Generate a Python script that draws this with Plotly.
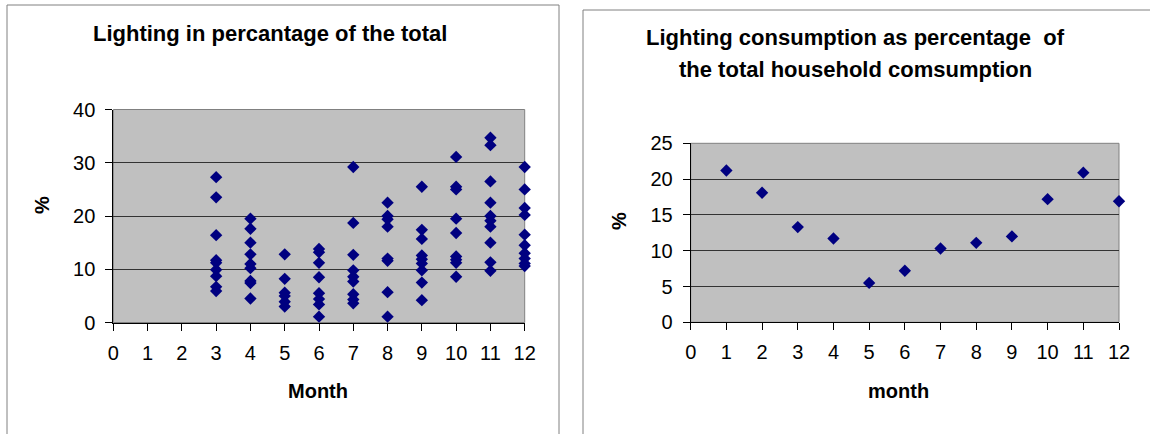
import plotly.graph_objects as go

# ---- Data: left chart (individual household values, % lighting of total) ----
months_left = (
    [3] * 9 + [4] * 9 + [5] * 6 + [6] * 8 + [7] * 9 + [8] * 8 + [9] * 9 + [10] * 9 + [11] * 10 + [12] * 10
)
pct_left = [
    27.3, 23.5, 16.4, 11.7, 11.2, 9.9, 8.7, 6.7, 5.9,            # month 3
    19.5, 17.6, 15.0, 12.8, 11.0, 10.2, 7.8, 7.4, 4.5,           # month 4
    12.8, 8.2, 5.6, 5.0, 3.9, 3.0,                               # month 5
    13.8, 13.2, 11.2, 8.5, 5.5, 4.4, 3.4, 1.1,                   # month 6
    29.2, 18.7, 12.7, 9.8, 8.6, 7.7, 5.3, 4.3, 3.6,              # month 7
    22.5, 20.0, 19.4, 18.0, 12.0, 11.6, 5.7, 1.1,                # month 8
    25.5, 17.4, 15.7, 12.6, 11.9, 11.1, 9.8, 7.5, 4.2,           # month 9
    31.1, 25.5, 25.0, 19.5, 16.8, 12.4, 11.8, 11.2, 8.6,         # month 10
    34.7, 33.3, 26.5, 22.5, 20.0, 19.1, 18.0, 15.0, 11.3, 9.7,   # month 11
    29.2, 25.0, 21.5, 20.2, 16.5, 14.5, 13.0, 12.0, 11.1, 10.6,  # month 12
]

# ---- Data: right chart (monthly average) ----
months_right = [1, 2, 3, 4, 5, 6, 7, 8, 9, 10, 11, 12]
pct_right = [21.2, 18.1, 13.3, 11.7, 5.5, 7.2, 10.3, 11.1, 12.0, 17.2, 20.9, 16.9]

title_left = "Lighting in percantage of the total"
title_right_1 = "Lighting consumption as percentage  of"
title_right_2 = "the total household comsumption"
xtitle_left = "Month"
xtitle_right = "month"
ytitle = "%"

W, H = 1150, 434
FONT = "Liberation Sans, Arial, sans-serif"
MARKER = dict(symbol="diamond", size=9.5, color="#000080", line=dict(width=0))


def px(x):
    return x / W


def py(y):
    return 1 - y / H


fig = go.Figure()
fig.add_trace(go.Scatter(x=months_left, y=pct_left, mode="markers", marker=MARKER,
                         xaxis="x", yaxis="y", showlegend=False, cliponaxis=False,
                         hoverinfo="skip"))
fig.add_trace(go.Scatter(x=months_right, y=pct_right, mode="markers", marker=MARKER,
                         xaxis="x2", yaxis="y2", showlegend=False, cliponaxis=False,
                         hoverinfo="skip"))

axis_common = dict(
    showline=True, linecolor="black", linewidth=1,
    ticks="outside", ticklen=7, tickcolor="black", tickwidth=1,
    tickfont=dict(family=FONT, size=20, color="black"),
    zeroline=False, fixedrange=True, automargin=False,
)

fig.update_layout(
    template="none",
    width=W, height=H, autosize=False,
    margin=dict(l=0, r=0, t=0, b=0, pad=0),
    paper_bgcolor="white",
    plot_bgcolor="#C0C0C0",
    showlegend=False,
    hovermode=False,
    xaxis=dict(domain=[px(113.3), px(524.7)], range=[0, 12], dtick=1, tick0=0,
               showgrid=False, anchor="y", ticklabelstandoff=5, **axis_common),
    yaxis=dict(domain=[py(322.5), py(109.5)], range=[0, 40], dtick=10, tick0=0,
               showgrid=True, gridcolor="#333333", gridwidth=1, anchor="x",
               ticklabelstandoff=6, **axis_common),
    xaxis2=dict(domain=[px(690.7), px(1119)], range=[0, 12], dtick=1, tick0=0,
                showgrid=False, anchor="y2", ticklabelstandoff=5, **axis_common),
    yaxis2=dict(domain=[py(322.3), py(143.3)], range=[0, 25], dtick=5, tick0=0,
                showgrid=True, gridcolor="#333333", gridwidth=1, anchor="x2",
                ticklabelstandoff=6, **axis_common),
)

# outer chart frames
fig.add_shape(type="rect", xref="paper", yref="paper",
              x0=px(7), x1=px(559), y0=-0.2, y1=py(5),
              line=dict(color="#808080", width=1), fillcolor="rgba(0,0,0,0)", layer="below")
fig.add_shape(type="rect", xref="paper", yref="paper",
              x0=px(583), x1=1.2, y0=-0.2, y1=py(10),
              line=dict(color="#808080", width=1), fillcolor="rgba(0,0,0,0)", layer="below")

# plot-area borders (top/right grey)
for xr, yr in (("x", "y"), ("x2", "y2")):
    fig.add_shape(type="rect", xref=f"{xr} domain", yref=f"{yr} domain",
                  x0=0, x1=1, y0=0, y1=1,
                  line=dict(color="#808080", width=1), fillcolor="rgba(0,0,0,0)", layer="below")

title_font = dict(family=FONT, size=22, color="black")
label_font = dict(family=FONT, size=20, color="black")
annotations = [
    dict(text=f"<b>{title_left}</b>", x=px(270), y=py(33), font=title_font),
    dict(text=f"<b>{title_right_1}</b>", x=px(855), y=py(38), font=title_font),
    dict(text=f"<b>{title_right_2}</b>", x=px(855), y=py(70), font=title_font),
    dict(text=f"<b>{xtitle_left}</b>", x=px(318), y=py(391), font=label_font),
    dict(text=f"<b>{xtitle_right}</b>", x=px(898), y=py(391), font=label_font),
    dict(text=f"<b>{ytitle}</b>", x=px(42), y=py(205), textangle=-90, font=label_font),
    dict(text=f"<b>{ytitle}</b>", x=px(619), y=py(221), textangle=-90, font=label_font),
]
for a in annotations:
    fig.add_annotation(xref="paper", yref="paper", showarrow=False,
                       xanchor="center", yanchor="middle", **a)

fig.write_html(
    "out.html",
    config={"displayModeBar": False, "staticPlot": True},
    post_script="document.body.style.margin='0';document.body.style.overflow='hidden';",
)
